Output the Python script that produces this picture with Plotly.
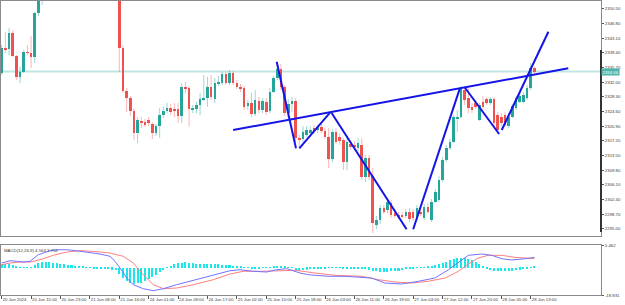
import plotly.graph_objects as go

# ---------------- data ----------------
OPEN = [
    2334.28, 2340.59, 2340.34, 2344.37, 2338.57, 2333.27, 2334.53, 2339.58, 2339.33, 2338.32,
    2349.42, 2354.21, 2358.30, 2360.20, 2361.80, 2360.10, 2362.30, 2364.20, 2363.00, 2365.70,
    2367.90, 2366.10, 2364.00, 2365.30, 2362.00, 2360.30, 2361.50, 2359.60, 2358.00, 2359.80,
    2358.20, 2357.10, 2356.40, 2340.59, 2329.74, 2327.97, 2324.69, 2319.14, 2322.17, 2321.92,
    2322.42, 2321.41, 2319.14, 2320.91, 2323.76, 2324.77, 2325.45, 2325.20, 2325.20, 2323.43,
    2330.75, 2330.42, 2325.12, 2325.12, 2326.21, 2327.65, 2328.05, 2330.83, 2327.65, 2331.68,
    2331.68, 2334.03, 2331.68, 2334.21, 2331.68, 2330.83, 2330.42, 2325.96, 2326.71, 2323.94,
    2327.29, 2324.95, 2327.04, 2324.77, 2329.56, 2332.94, 2335.22, 2330.75, 2324.19, 2326.46,
    2327.29, 2317.88, 2317.55, 2318.64, 2319.07, 2320.33, 2319.90, 2320.73, 2319.72, 2318.21,
    2312.51, 2319.47, 2318.14, 2317.38, 2311.90, 2316.29, 2316.12, 2315.28, 2316.12, 2308.12,
    2312.76, 2308.30, 2295.93, 2297.19, 2300.15, 2299.72, 2301.48, 2298.88, 2298.46, 2298.46,
    2298.20, 2299.29, 2299.21, 2297.62, 2299.29, 2297.62, 2300.55, 2297.19, 2301.81, 2302.24,
    2307.29, 2312.33, 2315.36, 2316.95, 2322.85, 2323.26, 2329.99, 2327.90, 2325.78, 2326.64,
    2322.42, 2327.04, 2327.65, 2326.79, 2327.65, 2323.68, 2323.26, 2323.68, 2320.91, 2323.26,
    2325.37, 2327.04, 2327.04, 2327.90, 2330.42, 2335.47,
]
HIGH = [
    2341.35, 2344.63, 2345.64, 2345.13, 2338.82, 2335.80, 2340.09, 2341.35, 2343.62, 2349.67,
    2355.73, 2360.27, 2361.00, 2362.50, 2363.00, 2362.80, 2364.90, 2365.80, 2366.40, 2368.60,
    2368.90, 2367.30, 2366.00, 2366.20, 2363.60, 2362.40, 2362.80, 2360.90, 2360.70, 2361.20,
    2359.90, 2358.80, 2357.00, 2341.35, 2330.50, 2328.48, 2325.20, 2323.18, 2323.18, 2322.68,
    2323.18, 2321.92, 2321.41, 2325.45, 2325.78, 2326.79, 2326.46, 2326.71, 2326.71, 2331.76,
    2332.09, 2331.00, 2326.21, 2327.04, 2329.24, 2333.78, 2333.35, 2333.78, 2333.02, 2333.52,
    2334.61, 2334.61, 2335.04, 2334.79, 2332.52, 2331.51, 2331.00, 2327.47, 2329.24, 2329.99,
    2328.23, 2327.97, 2327.97, 2330.50, 2333.52, 2336.05, 2336.55, 2331.25, 2327.72, 2328.23,
    2327.97, 2318.64, 2320.91, 2320.91, 2320.73, 2321.16, 2321.16, 2321.41, 2320.41, 2320.41,
    2320.15, 2320.41, 2319.14, 2317.88, 2318.14, 2317.38, 2317.13, 2317.88, 2317.81, 2313.59,
    2313.59, 2310.31, 2298.20, 2300.98, 2300.98, 2302.49, 2302.24, 2299.46, 2299.21, 2299.21,
    2299.97, 2300.22, 2299.97, 2300.98, 2300.22, 2301.23, 2301.48, 2302.49, 2305.02, 2308.30,
    2313.09, 2316.12, 2317.63, 2323.68, 2324.95, 2331.00, 2330.75, 2330.50, 2326.71, 2327.47,
    2326.71, 2328.48, 2328.23, 2328.23, 2328.23, 2324.44, 2324.19, 2324.44, 2324.19, 2326.46,
    2328.48, 2329.24, 2329.49, 2331.25, 2336.80, 2335.87,
]
LOW = [
    2333.78, 2339.33, 2338.82, 2338.32, 2332.52, 2331.76, 2334.28, 2338.82, 2335.54, 2336.80,
    2348.66, 2351.44, 2357.00, 2358.80, 2359.50, 2359.20, 2361.00, 2362.10, 2362.40, 2364.80,
    2365.20, 2363.40, 2362.20, 2361.50, 2359.40, 2358.10, 2358.90, 2357.20, 2356.30, 2357.40,
    2355.60, 2354.70, 2334.53, 2329.24, 2324.44, 2323.43, 2317.38, 2316.62, 2320.41, 2320.66,
    2320.91, 2317.63, 2318.39, 2317.88, 2322.93, 2324.19, 2323.68, 2323.18, 2321.67, 2321.67,
    2329.24, 2320.73, 2324.19, 2324.11, 2323.68, 2327.22, 2325.78, 2327.47, 2326.71, 2331.00,
    2331.25, 2331.25, 2331.25, 2331.25, 2330.25, 2329.49, 2324.95, 2324.95, 2323.18, 2323.43,
    2324.19, 2324.19, 2323.68, 2324.19, 2329.24, 2332.52, 2329.99, 2323.43, 2322.93, 2324.44,
    2316.87, 2315.61, 2316.87, 2318.14, 2318.64, 2318.89, 2319.14, 2319.14, 2317.63, 2310.31,
    2311.83, 2316.37, 2316.12, 2309.81, 2309.81, 2314.86, 2314.86, 2314.60, 2307.29, 2306.79,
    2307.29, 2293.91, 2294.93, 2296.19, 2298.71, 2298.96, 2297.70, 2297.70, 2297.45, 2297.70,
    2297.70, 2296.69, 2296.94, 2297.19, 2298.20, 2297.19, 2298.71, 2296.69, 2301.48, 2301.74,
    2306.79, 2311.83, 2314.86, 2316.62, 2319.47, 2322.93, 2326.21, 2324.11, 2324.19, 2325.20,
    2322.17, 2325.20, 2326.21, 2326.21, 2320.91, 2318.89, 2320.91, 2320.66, 2320.41, 2322.93,
    2324.95, 2326.71, 2326.71, 2327.47, 2329.99, 2333.78,
]
CLOSE = [
    2340.59, 2340.09, 2344.37, 2338.57, 2333.27, 2334.53, 2339.58, 2339.33, 2338.32, 2349.42,
    2354.21, 2358.25, 2360.20, 2361.80, 2360.10, 2362.30, 2364.20, 2363.00, 2365.70, 2367.90,
    2366.10, 2364.00, 2365.30, 2362.00, 2360.30, 2361.50, 2359.60, 2358.00, 2359.80, 2358.20,
    2357.10, 2356.40, 2340.59, 2329.74, 2327.97, 2324.69, 2319.14, 2322.42, 2321.67, 2321.29,
    2321.67, 2319.14, 2320.91, 2323.68, 2324.77, 2325.45, 2324.37, 2324.77, 2323.43, 2330.75,
    2330.42, 2325.12, 2325.20, 2326.21, 2327.65, 2328.05, 2330.83, 2328.15, 2331.68, 2332.09,
    2334.03, 2331.68, 2334.21, 2331.68, 2330.83, 2330.42, 2325.78, 2326.71, 2323.94, 2327.47,
    2324.95, 2327.22, 2324.52, 2329.56, 2332.94, 2335.22, 2330.75, 2324.19, 2326.46, 2327.29,
    2317.88, 2317.38, 2319.47, 2319.90, 2319.90, 2319.47, 2320.73, 2319.72, 2318.21, 2312.51,
    2319.47, 2316.95, 2317.13, 2311.90, 2316.95, 2315.54, 2315.54, 2316.62, 2308.12, 2312.76,
    2308.12, 2296.36, 2297.19, 2300.22, 2299.29, 2301.81, 2298.46, 2298.20, 2298.03, 2298.20,
    2299.29, 2297.37, 2297.62, 2300.15, 2298.88, 2300.55, 2299.29, 2301.81, 2304.33, 2307.29,
    2312.33, 2315.36, 2316.95, 2323.18, 2323.26, 2330.42, 2327.47, 2325.37, 2324.95, 2325.78,
    2326.21, 2325.78, 2326.79, 2327.65, 2321.59, 2319.90, 2321.59, 2321.16, 2323.26, 2325.96,
    2327.90, 2328.48, 2328.73, 2330.42, 2335.47, 2334.66,
]
LAST_PRICE = 2334.66

TICK_BARS = [0, 8, 16, 24, 32, 40, 48, 56, 64, 72, 80, 88, 96, 104, 112, 120, 128, 136, 144]
TICK_LABELS = ["20 Jun 2024", "20 Jun 15:00", "20 Jun 23:00", "21 Jun 08:00", "21 Jun 16:00",
               "24 Jun 01:00", "24 Jun 09:00", "24 Jun 17:00", "25 Jun 02:00", "25 Jun 10:00",
               "25 Jun 18:00", "26 Jun 03:00", "26 Jun 11:00", "26 Jun 19:00", "27 Jun 04:00",
               "27 Jun 12:00", "27 Jun 20:00", "28 Jun 05:00", "28 Jun 13:00"]
PRICE_TICKS = [2295.00, 2298.70, 2302.40, 2306.10, 2309.80, 2313.50, 2317.20, 2320.90,
               2324.60, 2328.30, 2332.00, 2335.70, 2339.40, 2343.10, 2346.80, 2350.50]

# trend lines drawn on the chart (bar index, price)
TL_X0 = [63.0, 74.85, 81.0, 89.8, 112.0, 126.1, 136.1]
TL_P0 = [2319.90, 2337.13, 2315.28, 2324.19, 2294.85, 2330.57, 2319.90]
TL_X1 = [154.2, 80.1, 89.36, 110.2, 124.7, 135.4, 148.8]
TL_P1 = [2335.47, 2315.28, 2324.27, 2294.85, 2330.42, 2318.89, 2344.70]

# MACD histogram (per bar, relative to histogram base level)
HIST = [
    1.96, 1.96, 1.72, 1.47, 0.49, 0.25, 0.15, 0.15, 0.25, 1.47,
    2.45, 2.70, 2.94, 2.94, 2.45, 2.21, 1.96, 1.72, 1.47, 1.23,
    0.98, 0.74, 0.49, 0.25, 0.15, -0.25, -0.25, -0.49, -0.49, -0.49,
    -0.74, -0.98, -2.94, -4.91, -6.38, -7.36, -7.85, -7.61, -7.36, -6.38,
    -5.40, -4.42, -3.44, -1.96, -0.98, 0.25, 0.98, 1.72, 2.21, 2.45,
    2.70, 2.45, 2.21, 1.96, 1.96, 1.72, 1.96, 1.96, 1.72, 1.72,
    1.47, 1.47, 1.23, 0.98, 0.74, 0.49, 0.15, 0.10, -0.15, -0.15,
    -0.15, 0.10, 0.15, 0.15, 0.49, 0.74, 0.74, 0.49, 0.25, 0.10,
    -1.23, -1.23, -0.98, -0.74, -0.49, -0.25, -0.15, -0.15, -0.10, 0.10,
    0.15, 0.15, 0.10, -0.10, -0.15, -0.15, -0.10, -0.10, -0.25, -0.49,
    -0.74, -1.23, -1.72, -1.96, -1.96, -1.96, -1.72, -1.47, -1.23, -0.98,
    -0.49, -0.25, -0.15, 0.10, 0.15, 0.25, 0.49, 0.74, 1.23, 1.72,
    2.21, 2.94, 3.93, 4.66, 4.91, 5.15, 4.91, 4.42, 3.68, 2.70,
    1.72, 0.74, -0.49, -0.98, -1.47, -1.47, -1.72, -1.47, -1.47, -1.23,
    -0.98, -0.74, -0.49, -0.25, 0.25, 0.49,
]
HIST_BASE = -5.58

MACD_X = [0, 2.26, 4.08, 5.88, 7.70, 8.60, 9.96, 11.32, 13.15, 15.41, 17.69, 20.41, 23.14,
          26.76, 29.48, 30.84, 32.2, 34.02, 35.82, 38.54, 41.26, 43.98, 47.63, 51.25, 54.87,
          58.52, 62.14, 64.86, 68.48, 72.13, 74.85, 77.57, 81.19, 83.45, 88.9, 93.44, 97.99,
          100.7, 104.3, 108.9, 113.4, 117.9, 121.6, 125.2, 127.0, 130.7, 133.4, 136.1, 138.8,
          142.4, 145]
MACD_V = [-3.13, -2.00, -2.29, -2.64, -2.29, -1.02, 0.95, 1.78, 2.91, 3.40, 3.40, 2.91, 2.27,
          1.29, 0.16, -2.29, -5.58, -10.49, -13.78, -15.74, -16.72, -15.74, -13.78, -12.11, -10.49,
          -8.87, -6.91, -6.42, -7.20, -7.54, -6.42, -5.92, -8.03, -8.87, -9.65, -9.65, -10.15,
          -10.49, -12.94, -13.43, -12.11, -10.49, -6.42, -1.51, 0.65, 1.29, 0.65, -1.02, -1.65,
          -1.02, -0.33]
SIGNAL_X = [0, 2.26, 4.98, 7.70, 10.42, 14.05, 17.69, 21.31, 24.93, 29.48, 33.1, 35.82, 38.54,
            41.26, 43.98, 47.63, 52.17, 57.6, 62.14, 65.76, 70.3, 74.85, 78.47, 80.0, 85.27,
            90.72, 97.99, 102.5, 107.1, 111.6, 116.1, 120.7, 124.3, 127.0, 129.7, 132.4, 136.1,
            139.7, 145]
SIGNAL_V = [-3.96, -3.13, -2.64, -2.64, -1.51, 0.65, 2.27, 2.91, 2.61, 1.78, 0.16, -3.13, -8.87,
            -13.78, -15.74, -15.40, -13.78, -11.32, -8.53, -7.20, -7.20, -6.91, -6.91, -6.70, -8.03,
            -9.16, -9.65, -11.32, -12.45, -12.94, -12.11, -10.49, -7.20, -3.62, -0.67, 0.65, 0.65,
            -0.33, -1.02]
MACD_TICKS = [5.462, -18.831]
MACD_TITLE = "MACD(12,26,9) 4.564 3.759"

# ---------------- styling ----------------
UP, DOWN = "#26a69a", "#ef5350"
UP_W, DOWN_W = "rgba(38,166,154,0.45)", "rgba(239,83,80,0.42)"
FONT = dict(family="Liberation Sans, Arial, sans-serif", size=4.3, color="#3a3a3a")
FRAME = "#8a8a8a"

N = len(CLOSE)
IDX = list(range(N))

fig = go.Figure()

# wicks
for up, col in ((True, UP_W), (False, DOWN_W)):
    wx, wy = [], []
    for i in IDX:
        if (CLOSE[i] >= OPEN[i]) == up:
            wx += [i, i, None]
            wy += [LOW[i], HIGH[i], None]
    fig.add_trace(go.Scatter(x=wx, y=wy, mode="lines", line=dict(color=col, width=1),
                             hoverinfo="skip", xaxis="x", yaxis="y"))

# bodies
fig.add_trace(go.Bar(
    x=IDX,
    y=[max(abs(c - o), 0.2) for o, c in zip(OPEN, CLOSE)],
    base=[min(o, c) for o, c in zip(OPEN, CLOSE)],
    marker=dict(color=[UP if c >= o else DOWN for o, c in zip(OPEN, CLOSE)], line=dict(width=0)),
    width=0.7, xaxis="x", yaxis="y"))

# trend lines
for x0, p0, x1, p1 in zip(TL_X0, TL_P0, TL_X1, TL_P1):
    fig.add_trace(go.Scatter(x=[x0, x1], y=[p0, p1], mode="lines",
                             line=dict(color="#1414e8", width=2), xaxis="x", yaxis="y"))

# MACD
fig.add_trace(go.Bar(x=IDX, y=HIST, base=HIST_BASE, width=0.55,
                     marker=dict(color="#19e8ea", line=dict(width=0)), xaxis="x2", yaxis="y2"))
fig.add_trace(go.Scatter(x=SIGNAL_X, y=SIGNAL_V, mode="lines", line=dict(color="#ff7f7f", width=1),
                         xaxis="x2", yaxis="y2"))
fig.add_trace(go.Scatter(x=MACD_X, y=MACD_V, mode="lines", line=dict(color="#7373ff", width=1),
                         xaxis="x2", yaxis="y2"))

XR = [-0.19, 163.12]
common_x = dict(range=XR, showgrid=False, zeroline=False, showline=True, mirror=True,
                linecolor=FRAME, linewidth=1, automargin=False)
common_y = dict(showgrid=False, zeroline=False, showline=True, mirror=True, linecolor=FRAME,
                linewidth=1, side="right", ticks="outside", ticklen=2, tickcolor="#555",
                tickfont=FONT, automargin=False)

fig.update_layout(
    width=625, height=305,
    margin=dict(l=1, r=24, t=1, b=10),
    paper_bgcolor="white", plot_bgcolor="white",
    showlegend=False, barmode="overlay", bargap=0,
    xaxis=dict(domain=[0, 1], anchor="y", showticklabels=False, ticks="", **common_x),
    xaxis2=dict(domain=[0, 1], anchor="y2", matches="x", tickmode="array",
                tickvals=TICK_BARS, ticktext=TICK_LABELS, ticks="outside", ticklen=3,
                tickcolor="#555", tickfont=FONT, tickangle=0,
                ticklabelposition="outside right", **common_x),
    yaxis=dict(domain=[0.2007, 1], anchor="x", range=[2293.16, 2352.45], tickmode="array",
               tickvals=PRICE_TICKS, ticktext=[f"{v:.2f}" for v in PRICE_TICKS], **common_y),
    yaxis2=dict(domain=[0, 0.170], anchor="x2", range=[-18.831, 5.707], tickmode="array",
                tickvals=MACD_TICKS, ticktext=[f"{v:.3f}" for v in MACD_TICKS], **common_y),
)

# current price line and label
fig.add_shape(type="line", xref="x domain", x0=0, x1=1, yref="y", y0=LAST_PRICE, y1=LAST_PRICE,
              line=dict(color="#bfe6e2", width=2), layer="below")
fig.add_annotation(xref="x domain", x=1.0, xanchor="left", yref="y", y=LAST_PRICE,
                   text=f"{LAST_PRICE:.2f}", showarrow=False, bgcolor="#4db6ac",
                   font=dict(family=FONT["family"], size=4.3, color="white"), borderpad=0.5)
# dark segment of the price scale
fig.add_shape(type="line", xref="x domain", x0=1, x1=1, yref="y domain", y0=0.017, y1=0.791,
              line=dict(color="#333333", width=2))
# MACD caption
fig.add_annotation(xref="x domain", x=0.002, xanchor="left", yref="y2 domain", y=0.99,
                   yanchor="top", text=MACD_TITLE, showarrow=False,
                   font=dict(family=FONT["family"], size=4.3, color="#3a3a3a"))

fig.write_html("out.html")
